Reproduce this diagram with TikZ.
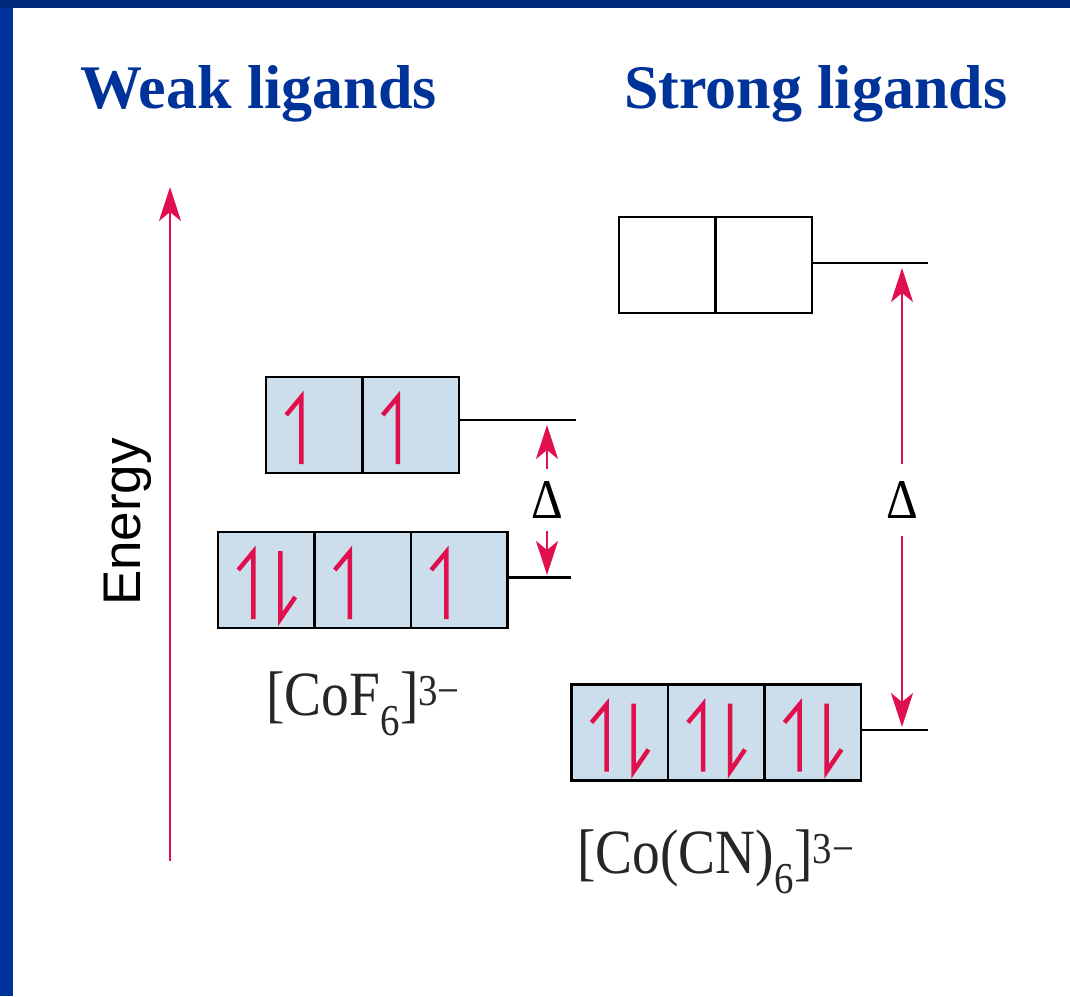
\documentclass[tikz,border=0pt]{standalone}
\usepackage{fontspec}
\usepackage{graphicx}
\setmainfont{Liberation Serif}
\newfontfamily\energyfont{Liberation Sans}
\usetikzlibrary{arrows.meta, positioning}

\definecolor{slideblue}{HTML}{003399}
\definecolor{barblue}{HTML}{00297A}
\definecolor{gapred}{HTML}{E0104F}
\definecolor{orbfill}{HTML}{CCDDEC}

% electron half-arrows inside an orbital box
\newcommand{\spinup}[1]{\draw[spin] ([shift={(-28pt,-38pt)}]#1.north) -- ([shift={(-13pt,-20pt)}]#1.north) -- ([shift={(-13pt,-87pt)}]#1.north);}
\newcommand{\spindown}[1]{\draw[spin] ([shift={(14pt,-19pt)}]#1.north) -- ([shift={(14pt,-87pt)}]#1.north) -- ([shift={(29pt,-65pt)}]#1.north);}
\newcommand{\narrow}[1]{\scalebox{0.88}[1]{#1}}

\begin{document}
\begin{tikzpicture}[x=1pt, y=-1pt,
    orb/.style={draw=black, line width=2.5pt, fill=orbfill, minimum width=96.5pt, minimum height=96pt, inner sep=0pt, outer sep=0pt},
    emptyorb/.style={orb, fill=white},
    level/.style={line width=2.5pt},
    gaparrow/.style={draw=gapred, line width=2.5pt, -{Stealth[length=34pt, width=22pt, inset=9pt]}},
    spin/.style={draw=gapred, line width=4.5pt, line join=miter},
    heading/.style={font=\bfseries\fontsize{62}{70}\selectfont, text=slideblue, anchor=base west, inner sep=0pt},
    ion/.style={font=\fontsize{63}{70}\selectfont, text=black!85, anchor=base west, inner sep=0pt},
    gaplabel/.style={font=\fontsize{56}{60}\selectfont, inner xsep=0pt, inner ysep=12pt}
]
\useasboundingbox (0,0) rectangle (1070,996);
\fill[white] (0,0) rectangle (1070,996);
\fill[slideblue] (0,0) rectangle (13,996);
\fill[barblue] (0,0) rectangle (1070,8);

% Headings
\node[heading] (weak) at (80,108) {Weak ligands};
\node[heading] (strong) at (624,108) {Strong ligands};

% Energy axis
\coordinate (ebot) at (170,861);
\coordinate (etop) at (170,187);
\draw[gaparrow] (ebot) -- (etop);
\node[font=\energyfont\fontsize{53}{60}\selectfont, rotate=90, anchor=base, inner sep=0pt] (energy) at (140,522) {Energy};

% [CoF6]3- : weak field
\node[orb] (wk1) at (314.25,425) {};
\node[orb, right=0pt of wk1] (wk2) {};
\node[orb] (we1) at (266.25,580) {};
\node[orb, right=0pt of we1] (we2) {};
\node[orb, right=0pt of we2] (we3) {};

\coordinate (wkend) at (576,420);
\coordinate (weend) at (571,577.5);
\draw[level] (wk2.east |- wkend) -- (wkend);
\draw[level] (we3.east |- weend) -- (weend);

\spinup{wk1} \spinup{wk2}
\spinup{we1} \spindown{we1} \spinup{we2} \spinup{we3}

\node[gaplabel] (dwk) at (547,500) {\narrow{Δ}};
\draw[gaparrow] (dwk.north) -- ([yshift=-5pt]dwk |- wkend);
\draw[gaparrow] (dwk.south) -- ([yshift=2.5pt]dwk |- weend);

\node[ion] (cof) at (266,715) {\narrow{[CoF\textsubscript{6}]\textsuperscript{3−}}};

% [Co(CN)6]3- : strong field
\node[emptyorb] (se1) at (667.25,265) {};
\node[emptyorb, right=0pt of se1] (se2) {};
\node[orb] (st1) at (619.5,732.5) {};
\node[orb, right=0pt of st1] (st2) {};
\node[orb, right=0pt of st2] (st3) {};

\coordinate (seend) at (928,263);
\coordinate (stend) at (928,730);
\draw[level] (se2.east |- seend) -- (seend);
\draw[level] (st3.east |- stend) -- (stend);

\spinup{st1} \spindown{st1} \spinup{st2} \spindown{st2} \spinup{st3} \spindown{st3}

\node[gaplabel, inner ysep=17pt] (dst) at (902,500) {\narrow{Δ}};
\draw[gaparrow] (dst.north) -- ([yshift=-5pt]dst |- seend);
\draw[gaparrow] (dst.south) -- ([yshift=3pt]dst |- stend);

\node[ion] (cocn) at (577,873) {\narrow{[Co(CN)\textsubscript{6}]\textsuperscript{3−}}};

\end{tikzpicture}
\end{document}
